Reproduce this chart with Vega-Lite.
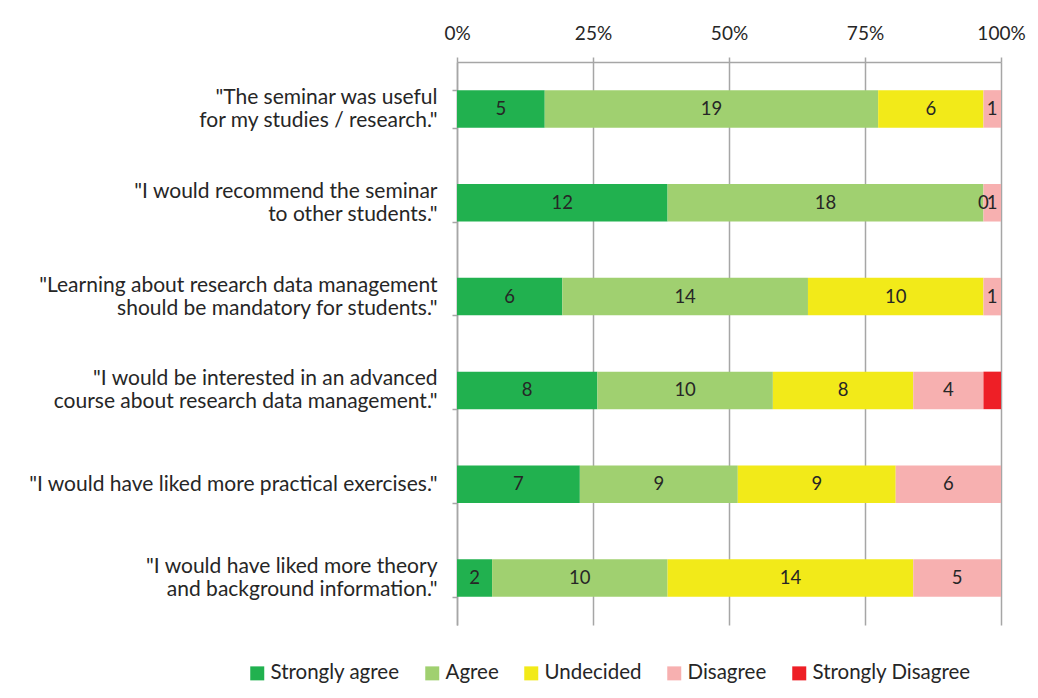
{
  "$schema": "https://vega.github.io/schema/vega-lite/v6.json",
  "autosize": {"type": "none"},
  "width": 544,
  "height": 563,
  "padding": {"left": 457, "top": 62, "right": 37, "bottom": 73},
  "background": "white",
  "config": {
    "font": "Lato",
    "view": {"stroke": null},
    "axis": {"labelFont": "Lato", "labelColor": "#262626"}
  },
  "data": {
    "values": [
      {"question": "\"The seminar was useful|\u2800|for my studies / research.\"", "qi": 1, "response": "Strongly agree", "ri": 1, "count": 5},
      {"question": "\"The seminar was useful|\u2800|for my studies / research.\"", "qi": 1, "response": "Agree", "ri": 2, "count": 19},
      {"question": "\"The seminar was useful|\u2800|for my studies / research.\"", "qi": 1, "response": "Undecided", "ri": 3, "count": 6},
      {"question": "\"The seminar was useful|\u2800|for my studies / research.\"", "qi": 1, "response": "Disagree", "ri": 4, "count": 1},
      {"question": "\"I would recommend the seminar|\u2800|to other students.\"", "qi": 2, "response": "Strongly agree", "ri": 1, "count": 12},
      {"question": "\"I would recommend the seminar|\u2800|to other students.\"", "qi": 2, "response": "Agree", "ri": 2, "count": 18},
      {"question": "\"I would recommend the seminar|\u2800|to other students.\"", "qi": 2, "response": "Undecided", "ri": 3, "count": 0},
      {"question": "\"I would recommend the seminar|\u2800|to other students.\"", "qi": 2, "response": "Disagree", "ri": 4, "count": 1},
      {"question": "\"Learning about research data management|\u2800|should be mandatory for students.\"", "qi": 3, "response": "Strongly agree", "ri": 1, "count": 6},
      {"question": "\"Learning about research data management|\u2800|should be mandatory for students.\"", "qi": 3, "response": "Agree", "ri": 2, "count": 14},
      {"question": "\"Learning about research data management|\u2800|should be mandatory for students.\"", "qi": 3, "response": "Undecided", "ri": 3, "count": 10},
      {"question": "\"Learning about research data management|\u2800|should be mandatory for students.\"", "qi": 3, "response": "Disagree", "ri": 4, "count": 1},
      {"question": "\"I would be interested in an advanced|\u2800|course about research data management.\"", "qi": 4, "response": "Strongly agree", "ri": 1, "count": 8},
      {"question": "\"I would be interested in an advanced|\u2800|course about research data management.\"", "qi": 4, "response": "Agree", "ri": 2, "count": 10},
      {"question": "\"I would be interested in an advanced|\u2800|course about research data management.\"", "qi": 4, "response": "Undecided", "ri": 3, "count": 8},
      {"question": "\"I would be interested in an advanced|\u2800|course about research data management.\"", "qi": 4, "response": "Disagree", "ri": 4, "count": 4},
      {"question": "\"I would be interested in an advanced|\u2800|course about research data management.\"", "qi": 4, "response": "Strongly Disagree", "ri": 5, "count": 1},
      {"question": "|\"I would have liked more practical exercises.\"", "qi": 5, "response": "Strongly agree", "ri": 1, "count": 7},
      {"question": "|\"I would have liked more practical exercises.\"", "qi": 5, "response": "Agree", "ri": 2, "count": 9},
      {"question": "|\"I would have liked more practical exercises.\"", "qi": 5, "response": "Undecided", "ri": 3, "count": 9},
      {"question": "|\"I would have liked more practical exercises.\"", "qi": 5, "response": "Disagree", "ri": 4, "count": 6},
      {"question": "\"I would have liked more theory|\u2800|and background information.\"", "qi": 6, "response": "Strongly agree", "ri": 1, "count": 2},
      {"question": "\"I would have liked more theory|\u2800|and background information.\"", "qi": 6, "response": "Agree", "ri": 2, "count": 10},
      {"question": "\"I would have liked more theory|\u2800|and background information.\"", "qi": 6, "response": "Undecided", "ri": 3, "count": 14},
      {"question": "\"I would have liked more theory|\u2800|and background information.\"", "qi": 6, "response": "Disagree", "ri": 4, "count": 5}
    ]
  },
  "transform": [
    {"stack": "count", "groupby": ["question"], "sort": [{"field": "ri", "order": "ascending"}], "offset": "normalize", "as": ["x0", "x1"]},
    {"calculate": "(datum.x0 + datum.x1) / 2", "as": "xm"}
  ],
  "encoding": {
    "y": {
      "field": "question",
      "type": "nominal",
      "sort": {"field": "qi", "order": "ascending"},
      "scale": {"paddingInner": 0.6, "paddingOuter": 0.3},
      "axis": {
        "title": null,
        "labelExpr": "split(datum.label, '|')",
        "labelFontSize": 21,
        "labelLineHeight": 11.5,
        "labelAlign": "right",
        "labelOffset": -11.5,
        "labelPadding": 15,
        "labelLimit": 500,
        "tickBand": "extent",
        "tickOffset": 28,
        "tickSize": 5,
        "tickColor": "#A6A6A6",
        "tickWidth": 1.5,
        "domainColor": "#A6A6A6",
        "domainWidth": 1.5,
        "grid": false
      }
    }
  },
  "layer": [
    {
      "mark": {"type": "bar"},
      "encoding": {
        "x": {
          "field": "x0",
          "type": "quantitative",
          "scale": {"domain": [0, 1], "nice": false},
          "axis": {
            "orient": "top",
            "title": null,
            "values": [0, 0.25, 0.5, 0.75, 1],
            "format": ".0%",
            "labelFontSize": 19,
            "labelPadding": 14,
            "labelFlush": false,
            "tickSize": 5,
            "tickColor": "#A6A6A6",
            "tickWidth": 1.5,
            "domainColor": "#A6A6A6",
            "domainWidth": 1.5,
            "grid": true,
            "gridColor": "#A6A6A6",
            "gridWidth": 1.5
          }
        },
        "x2": {"field": "x1"},
        "color": {
          "field": "response",
          "type": "nominal",
          "scale": {
            "domain": ["Strongly agree", "Agree", "Undecided", "Disagree", "Strongly Disagree"],
            "range": ["#21B14F", "#A0D070", "#F2EA19", "#F7B0B0", "#EE1F26"]
          },
          "legend": {
            "title": null,
            "orient": "none",
            "direction": "horizontal",
            "legendX": -210,
            "legendY": 601,
            "symbolType": "square",
            "symbolSize": 196,
            "symbolStrokeWidth": 0,
            "labelFontSize": 20.5,
            "labelColor": "#262626",
            "labelFont": "Lato",
            "columnPadding": 22,
            "labelOffset": 3
          }
        }
      }
    },
    {
      "transform": [{"filter": "datum.response != 'Strongly Disagree'"}],
      "mark": {"type": "text", "fontSize": 18.5, "color": "#262626", "align": "center", "baseline": "middle"},
      "encoding": {
        "x": {"field": "xm", "type": "quantitative"},
        "text": {"field": "count", "type": "quantitative"}
      }
    }
  ]
}
